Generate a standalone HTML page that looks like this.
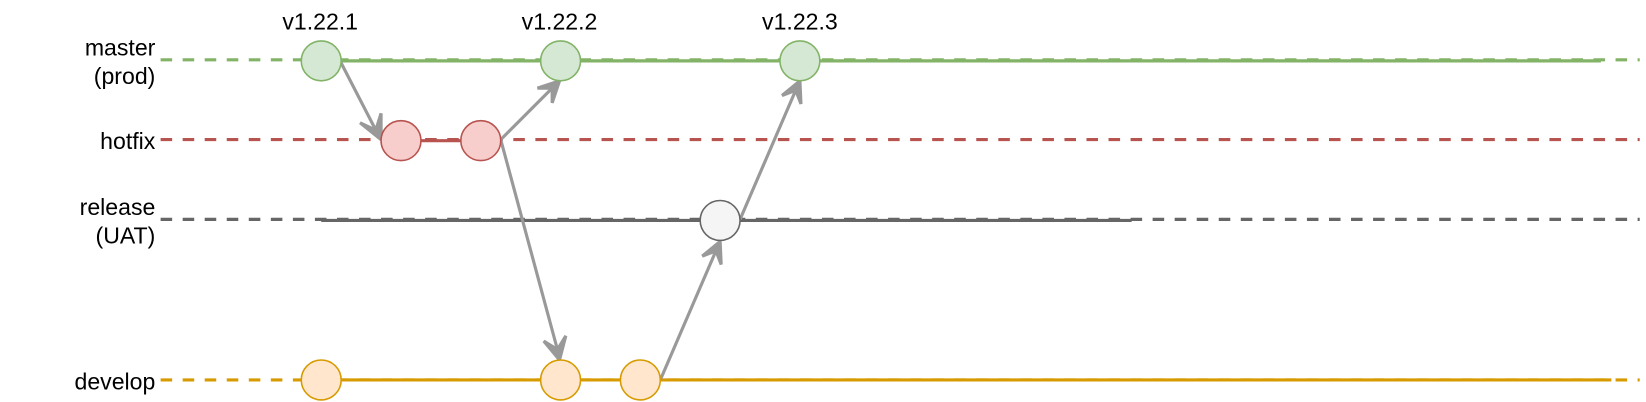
<!DOCTYPE html>
<html><head><meta charset="utf-8"><style>
html,body{margin:0;padding:0;background:#fff;width:1646px;height:402px;overflow:hidden}
svg{display:block}
text{font-family:"Liberation Sans",sans-serif;font-size:22px;fill:#000}
</style></head><body>
<svg width="1646" height="402" viewBox="0 0 1568 383" preserveAspectRatio="none">
<g>
<line x1="153" y1="57" x2="1562" y2="57" stroke="#82b366" stroke-width="3" stroke-dasharray="11 10"/>
<line x1="306" y1="58" x2="1525" y2="58" stroke="#82b366" stroke-width="3"/>
<line x1="153" y1="133" x2="1562" y2="133" stroke="#b85450" stroke-width="3" stroke-dasharray="11 10"/>
<line x1="382" y1="134" x2="458" y2="134" stroke="#b85450" stroke-width="3"/>
<line x1="153" y1="209" x2="1562" y2="209" stroke="#666666" stroke-width="3" stroke-dasharray="11 10"/>
<line x1="306" y1="210" x2="1078" y2="210" stroke="#666666" stroke-width="3"/>
<line x1="153" y1="362" x2="1562" y2="362" stroke="#d79b00" stroke-width="3" stroke-dasharray="11 10"/>
<line x1="306" y1="362" x2="1535" y2="362" stroke="#d79b00" stroke-width="3"/>
</g>
<g stroke="#999999" stroke-width="3" fill="#999999">
<line x1="325" y1="60" x2="358" y2="124"/>
<polygon points="363,133 343,117 358,124 363,108"/>
<line x1="477" y1="133" x2="526" y2="84"/>
<polygon points="533,77 526,98 526,84 512,84"/>
<line x1="477" y1="133" x2="531" y2="333"/>
<polygon points="533,343 518,325 531,333 539,320"/>
<line x1="629" y1="362" x2="682" y2="239"/>
<polygon points="686,230 687,252 682,239 669,244"/>
<line x1="705" y1="209" x2="758" y2="86"/>
<polygon points="762,77 763,99 758,86 745,91"/>
</g>
<g stroke-width="1.5">
<circle cx="306" cy="58" r="19" fill="#d5e8d4" stroke="#82b366"/>
<circle cx="534" cy="58" r="19" fill="#d5e8d4" stroke="#82b366"/>
<circle cx="762" cy="58" r="19" fill="#d5e8d4" stroke="#82b366"/>
<circle cx="382" cy="134" r="19" fill="#f8cecc" stroke="#b85450"/>
<circle cx="458" cy="134" r="19" fill="#f8cecc" stroke="#b85450"/>
<circle cx="686" cy="210" r="19" fill="#f5f5f5" stroke="#666666"/>
<circle cx="306" cy="362" r="19" fill="#ffe6cc" stroke="#d79b00"/>
<circle cx="534" cy="362" r="19" fill="#ffe6cc" stroke="#d79b00"/>
<circle cx="610" cy="362" r="19" fill="#ffe6cc" stroke="#d79b00"/>
</g>
<g text-anchor="end">
<text x="148" y="53">master</text>
<text x="148" y="80">(prod)</text>
<text x="148" y="142">hotfix</text>
<text x="148" y="205">release</text>
<text x="148" y="232">(UAT)</text>
<text x="148" y="371">develop</text>
</g>
<g text-anchor="middle">
<text x="305" y="28">v1.22.1</text>
<text x="533" y="28">v1.22.2</text>
<text x="762" y="28">v1.22.3</text>
</g>
</svg>
</body></html>
